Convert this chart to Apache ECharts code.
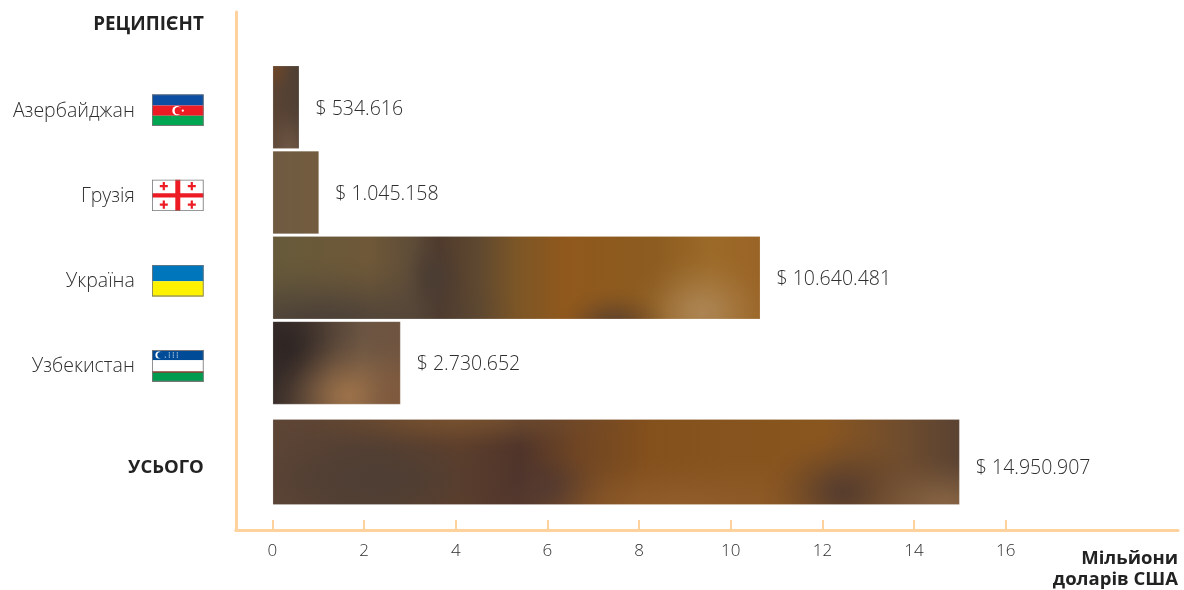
<!DOCTYPE html>
<html><head><meta charset="utf-8">
<style>html,body{margin:0;padding:0;background:#fff}#c{width:1184px;height:590px}</style>
<script src="https://cdn.jsdelivr.net/npm/echarts@6/dist/echarts.min.js"></script>
</head><body><div id="c"></div>
<script>
const countries = ['Азербайджан','Грузія','Україна','Узбекистан'];
const countryBars = [0.59,1.02,10.65,2.8];
const countryLabels = ['$ 534.616','$ 1.045.158','$ 10.640.481','$ 2.730.652'];
const totalName = 'УСЬОГО';
const totalBar = [15.0];
const totalLabel = ['$ 14.950.907'];
const tickValues = [0,2,4,6,8,10,12,14,16];
const yTitle = 'РЕЦИПІЄНТ';
const xTitle = 'Мільйони\nдоларів США';

const FONT = '"Open Sans"', AXIS = '#FFD19C', INK = '#2e2e2e';
const svg = b => 'data:image/svg+xml;charset=utf-8,' + encodeURIComponent(
  '<svg xmlns="http://www.w3.org/2000/svg" width="52" height="31" viewBox="0 0 52 31">' + b +
  '<rect x=".5" y=".5" width="51" height="30" fill="none" stroke="#777"/></svg>');
const cross = (x,y) => `<path d="M${x-4} ${y}H${x+4}M${x} ${y-4}V${y+4}" stroke="#ed1c24" stroke-width="2.2"/>`;
const flags = [
  svg('<rect width="52" height="11" fill="#0b4ea2"/><rect y="11" width="52" height="10" fill="#ed1c24"/><rect y="21" width="52" height="10" fill="#00a651"/><circle cx="25" cy="16" r="4.5" fill="#fff"/><circle cx="26.5" cy="16" r="3.6" fill="#ed1c24"/><circle cx="31" cy="16" r="1.1" fill="#fff"/>'),
  svg('<rect width="52" height="31" fill="#fff"/><rect x="23.5" width="5" height="31" fill="#ed1c24"/><rect y="13.5" width="52" height="4" fill="#ed1c24"/>' + cross(12,6.5)+cross(40,6.5)+cross(12,24.5)+cross(40,24.5)),
  svg('<rect width="52" height="16" fill="#0077bd"/><rect y="16" width="52" height="15" fill="#fff200"/>'),
  svg('<rect width="52" height="10" fill="#004b97"/><rect y="10" width="52" height="11" fill="#fff"/><rect y="21" width="52" height="10" fill="#009b4e"/><rect y="21" width="52" height="1" fill="#ce1126"/><circle cx="7" cy="5" r="3.4" fill="#fff"/><circle cx="8.5" cy="5" r="3" fill="#004b97"/><path d="M13 7h1M17 3h1M17 5h1M17 7h1M21 3h1M21 5h1M21 7h1M25 3h1M25 5h1M25 7h1" stroke="#cfe0f0" stroke-width="1.2"/>')
];
const rich = { n:{fontFamily:FONT,fontWeight:300,fontSize:19.5,color:INK,padding:[2,17,0,0]} };
flags.forEach((f,i)=>{ rich['f'+i]={width:52,height:32,backgroundColor:{image:f}}; });

/* blurred photo-like fills: horizontal stops + soft blobs, in bar-relative units */
const textures = [
 {stops:[[0,'#5a4333'],[1,'#4f4034']],blobs:[[.1,.05,.7,.3,'#6a4528'],[.6,1,1.1,.55,'#6d5442']]},
 {stops:[[0,'#6f5a42'],[1,'#735c3e']],blobs:[]},
 {stops:[[0,'#665a3a'],[.2,'#6e5838'],[.29,'#5e4c38'],[.34,'#503a2c'],[.42,'#5e4830'],[.5,'#7c5626'],[.6,'#90581c'],[.78,'#8c5c20'],[.9,'#9c6a28'],[1,'#9a6426']],
  blobs:[[.1,1.05,.42,.8,'#4a3f38'],[.33,.5,.07,.6,'#4b3d33'],[.88,.92,.15,.75,'#ac8452'],[.7,1.1,.12,.5,'#5a3f2c']]},
 {stops:[[0,'#3a2e2a'],[.4,'#4f3f34'],[.7,'#6b5542'],[1,'#6f5440']],blobs:[[.1,.3,.4,.8,'#2f2624'],[.6,.9,.6,.75,'#9c7149'],[1,1,.4,.8,'#80593c']]},
 {stops:[[0,'#5d4535'],[.15,'#553f31'],[.27,'#5e3e2a'],[.36,'#4f342a'],[.44,'#6e4524'],[.55,'#84501c'],[.8,'#8a561f'],[.92,'#6e4c2e'],[1,'#5a4232']],
  blobs:[[.15,.7,.24,.7,'#4e3e34'],[.27,.0,.28,.4,'#75502f'],[.4,.85,.09,.5,'#4e3630'],[.6,1,.28,.6,'#905d2b'],[.83,.85,.12,.7,'#573d2e'],[.98,1,.14,.6,'#866342']]}
];

const scaleMin = -0.8, scaleMax = 19.76, LEFT = 235.8, RIGHT = 6;
const hiddenX = gridIndex => ({type:'value',gridIndex,min:scaleMin,max:scaleMax,show:false});
const chart = echarts.init(document.getElementById('c'),null,{renderer:'canvas'});
const barStyle = {borderWidth:1,borderColor:'rgba(255,255,255,.18)'};
const option = {
  animation:false, backgroundColor:'#fff',
  grid:[
    {left:LEFT,right:RIGHT,top:12,bottom:59},
    {left:LEFT,right:RIGHT,top:64.5,height:341},
    {left:LEFT,right:RIGHT,top:419,height:86}
  ],
  xAxis:[
    {type:'value',gridIndex:0,min:scaleMin,max:scaleMax,splitLine:{show:false},
     axisLine:{show:true,onZero:false,lineStyle:{color:AXIS,width:3}},
     axisTick:{show:true,inside:true,length:10,customValues:tickValues,lineStyle:{color:AXIS,width:2}},
     axisLabel:{margin:13,customValues:tickValues,fontFamily:FONT,fontWeight:300,fontSize:17,color:INK,showMinLabel:true,showMaxLabel:true},
     name:xTitle,nameLocation:'end',nameGap:0,nameMoveOverlap:false,
     nameTextStyle:{fontFamily:FONT,fontWeight:700,fontSize:18.5,lineHeight:21,color:'#222',align:'right',verticalAlign:'top',padding:[18,0,0,0]}},
    hiddenX(1),hiddenX(2)
  ],
  yAxis:[
    {type:'value',gridIndex:0,min:0,max:1,splitLine:{show:false},axisTick:{show:false},axisLabel:{show:false},
     axisLine:{show:true,onZero:false,lineStyle:{color:AXIS,width:3}},
     name:yTitle,nameLocation:'end',nameGap:0,nameMoveOverlap:false,
     nameTextStyle:{fontFamily:FONT,fontWeight:700,fontSize:18.8,lineHeight:24,color:'#222',align:'right',verticalAlign:'top',padding:[1,32,0,0]}},
    {type:'category',gridIndex:1,inverse:true,data:countries,axisLine:{show:false},axisTick:{show:false},
     axisLabel:{margin:32,padding:[6,0,0,0],rich,formatter:(v,i)=>`{n|${v}}{f${i}|}`}},
    {type:'category',gridIndex:2,data:[totalName],axisLine:{show:false},axisTick:{show:false},
     axisLabel:{margin:32,formatter:v=>`{b|${v}}`,
       rich:{b:{fontFamily:FONT,fontWeight:700,fontSize:18.5,color:'#222',padding:[12,0,0,0]}}}}
  ],
  series:[
    {type:'bar',xAxisIndex:1,yAxisIndex:1,barWidth:83.5,data:countryBars,itemStyle:barStyle,silent:true,
     label:{show:true,position:'right',distance:16,offset:[0,2],fontFamily:FONT,fontWeight:300,fontSize:19.5,color:INK,
       formatter:p=>countryLabels[p.dataIndex]}},
    {type:'bar',xAxisIndex:2,yAxisIndex:2,barWidth:86,data:totalBar,itemStyle:barStyle,silent:true,
     label:{show:true,position:'right',distance:16,offset:[0,6],fontFamily:FONT,fontWeight:300,fontSize:19.5,color:INK,
       formatter:p=>totalLabel[p.dataIndex]}}
  ]
};
chart.setOption(option);

/* paint the textures where the axes put each bar, then use that as the bars' fill */
const tex = document.createElement('canvas'); tex.width=1184; tex.height=590;
const g = tex.getContext('2d');
function paint(t,xAxisIndex,yAxisIndex,cat,value,h){
  const x0=chart.convertToPixel({xAxisIndex},0), x1=chart.convertToPixel({xAxisIndex},value);
  const yc=chart.convertToPixel({yAxisIndex},cat), y0=yc-h/2, w=x1-x0;
  g.save(); g.beginPath(); g.rect(x0-2,y0-2,w+4,h+4); g.clip();
  const lg=g.createLinearGradient(x0,0,x1,0);
  t.stops.forEach(s=>lg.addColorStop(s[0],s[1]));
  g.fillStyle=lg; g.fillRect(x0-2,y0-2,w+4,h+4);
  t.blobs.forEach(b=>{
    g.save(); g.translate(x0+b[0]*w,y0+b[1]*h); g.scale(b[2]*w,b[3]*h);
    const r=g.createRadialGradient(0,0,0,0,0,1);
    [[0,'ff'],[.2,'d0'],[.4,'8c'],[.6,'48'],[.8,'16'],[1,'00']].forEach(s=>r.addColorStop(s[0],b[4]+s[1]));
    g.fillStyle=r; g.beginPath(); g.arc(0,0,1,0,Math.PI*2); g.fill(); g.restore();
  });
  g.restore();
}
countries.forEach((c,i)=>paint(textures[i],1,1,i,countryBars[i],83.5));
paint(textures[4],2,2,0,totalBar[0],86);
const pat={image:tex,repeat:'no-repeat'};
chart.setOption({series:[{itemStyle:{color:pat}},{itemStyle:{color:pat}}]});
</script></body></html>
